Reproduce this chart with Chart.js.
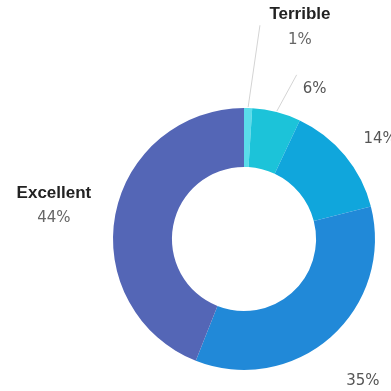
<!DOCTYPE html>
<html>
<head>
<meta charset="utf-8">
<script src="https://cdn.jsdelivr.net/npm/chart.js@4"></script>
<style>
  html, body { margin: 0; padding: 0; background: #fff; }
  #wrap { width: 391px; height: 391px; }
</style>
</head>
<body>
<div id="wrap"><canvas id="rating"></canvas></div>
<script>
var ratingLabels = ['Terrible', 'Poor', 'Average', 'Good', 'Excellent'];
var ratingValues = [1, 6, 14, 35, 44];
// only these names are written next to their slice
var showName = [true, false, false, false, true];
var sliceColors = ['#5adcea', '#1cc3d9', '#10a6dc', '#2189d8', '#5466b6'];

// where each outside label sits: extra degrees past the slice middle, px past the rim
var labelNudge = [[13, 88], [10.8, 35], [3.3, 38], [1.4, 54], [-0.8, 62]];
// leader line end, relative to the label centre (null = no line)
var leaderEnd = [[-40, -2], [-18, -14], null, null, null];

var outLabels = {
  id: 'outLabels',
  afterDraw: function(chart) {
    var ctx = chart.ctx;
    var meta = chart.getDatasetMeta(0);
    var total = ratingValues.reduce(function(a, b) { return a + b; }, 0);
    ctx.save();
    meta.data.forEach(function(arc, i) {
      var p = arc.getProps(['x', 'y', 'startAngle', 'endAngle', 'outerRadius'], true);
      var mid = (p.startAngle + p.endAngle) / 2;
      var a = mid + labelNudge[i][0] * Math.PI / 180;
      var r = p.outerRadius + labelNudge[i][1];
      var lx = p.x + Math.cos(a) * r;
      var ly = p.y + Math.sin(a) * r;

      if (leaderEnd[i]) {
        ctx.strokeStyle = '#d4d4d4';
        ctx.lineWidth = 1;
        ctx.beginPath();
        ctx.moveTo(p.x + Math.cos(mid) * (p.outerRadius + 1), p.y + Math.sin(mid) * (p.outerRadius + 1));
        ctx.lineTo(lx + leaderEnd[i][0], ly + leaderEnd[i][1]);
        ctx.stroke();
      }

      var pct = Math.round(ratingValues[i] / total * 100) + '%';
      ctx.textAlign = 'center';
      ctx.textBaseline = 'middle';
      if (showName[i]) {
        ctx.fillStyle = '#222';
        ctx.font = 'bold 17px "Liberation Sans", Arial, sans-serif';
        ctx.fillText(ratingLabels[i], lx, ly - 12.5);
        ctx.fillStyle = '#666';
        ctx.font = '15px "DejaVu Sans", sans-serif';
        ctx.fillText(pct, lx, ly + 12.5);
      } else {
        ctx.fillStyle = '#555';
        ctx.font = '15px "DejaVu Sans", sans-serif';
        ctx.fillText(pct, lx, ly);
      }
    });
    ctx.restore();
  }
};

new Chart(document.getElementById('rating'), {
  type: 'doughnut',
  data: {
    labels: ratingLabels,
    datasets: [{
      data: ratingValues,
      backgroundColor: sliceColors,
      borderWidth: 0
    }]
  },
  options: {
    responsive: true,
    maintainAspectRatio: false,
    animation: false,
    cutout: '55%',
    layout: { padding: { left: 113, right: 16, top: 108, bottom: 21 } },
    plugins: {
      legend: { display: false },
      tooltip: { enabled: false }
    }
  },
  plugins: [outLabels]
});
</script>
</body>
</html>
